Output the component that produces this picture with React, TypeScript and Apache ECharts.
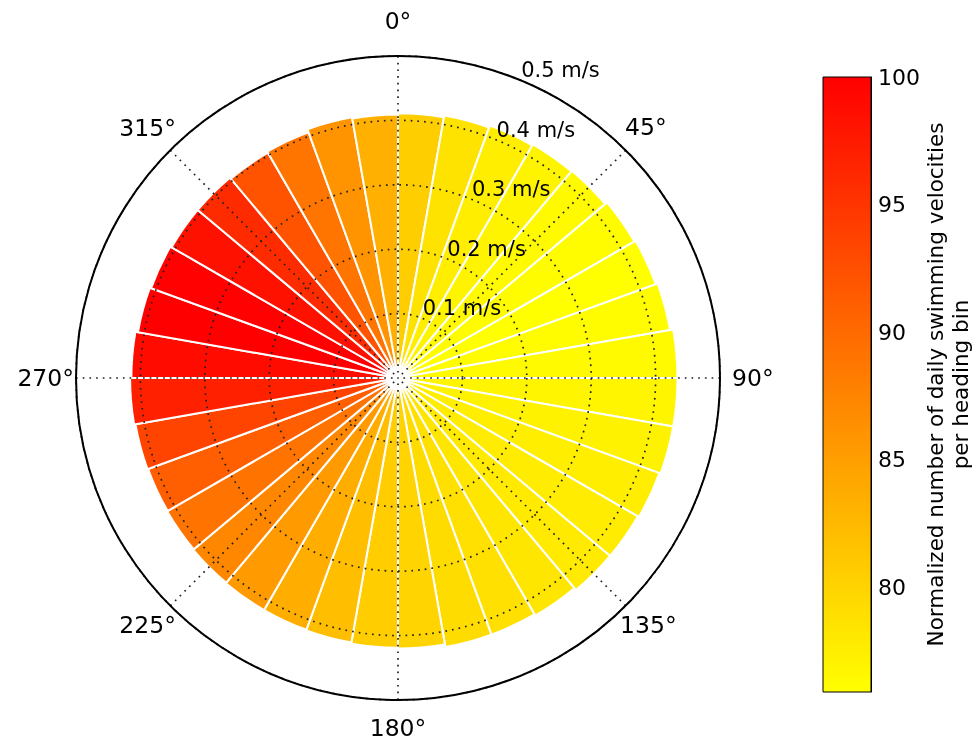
import { useEffect, useRef } from 'react';
import * as echarts from 'echarts';

// Heading bins (start angle of each 10° bin, clockwise from north)
const HEADING_BINS = [
  '0', '10', '20', '30', '40', '50', '60', '70', '80',
  '90', '100', '110', '120', '130', '140', '150', '160', '170',
  '180', '190', '200', '210', '220', '230', '240', '250', '260',
  '270', '280', '290', '300', '310', '320', '330', '340', '350',
];

// Mean swimming velocity per heading bin (m/s)
const SPEED = [
  0.411, 0.414, 0.417, 0.419, 0.42, 0.424, 0.426, 0.429, 0.434,
  0.434, 0.434, 0.432, 0.43, 0.43, 0.426, 0.424, 0.424, 0.42,
  0.419, 0.417, 0.416, 0.416, 0.415, 0.414, 0.413, 0.414, 0.416,
  0.414, 0.41, 0.408, 0.406, 0.406, 0.404, 0.406, 0.411, 0.409,
];

// Normalized number of daily swimming velocities per heading bin
const NORM_COUNT = [
  80.5, 78.5, 77.5, 76.9, 76.4, 76.2, 75.9, 76.2, 76.4,
  76.8, 77.1, 77.5, 77.7, 77.9, 78.3, 78.8, 79.2, 80.0,
  80.6, 82.0, 83.6, 85.4, 87.2, 89.0, 91.0, 93.6, 97.0,
  99.0, 100, 99.9, 98.4, 95.9, 92.2, 88.9, 86.0, 83.4,
];

const HEADING_TICK_LABELS = ['0°', '45°', '90°', '135°', '180°', '225°', '270°', '315°'];
const SPEED_UNIT = 'm/s';
const COLORBAR_TICKS = [80, 85, 90, 95, 100];
const COUNT_MIN = 75.9;
const COUNT_MAX = 100;
const COLOR_LOW = '#ffff00';
const COLOR_HIGH = '#ff0000';
const COLORBAR_TITLE = 'Normalized number of daily swimming velocities\nper heading bin';

const FONT = 'DejaVu Sans';
const CENTER = [398, 378];
const RADIUS = 322;
const DOTTED = { color: '#222', width: 1.7, type: [1.7, 5] as number[] };

// per-label padding [top, right, bottom, left] for heading labels
const HEADING_PAD = [
  [0, 0, 31, 0],
  [0, 0, 17, 5],
  [0, 0, 0, 20],
  [13, 0, 0, 0],
  [24, 0, 0, 0],
  [13, 0, 0, 0],
  [0, 10, 0, 0],
  [0, 0, 16, 0],
];

function buildOption(): any {
  const rich: Record<string, any> = {};
  HEADING_PAD.forEach((p, i) => {
    rich['h' + i] = { padding: p, fontSize: 23.5, color: '#000', fontFamily: FONT };
  });

  return {
    animation: false,
    textStyle: { fontFamily: FONT },
    dataset: {
      dimensions: ['heading', 'speed', 'count'],
      source: HEADING_BINS.map((h, i) => [h, SPEED[i], NORM_COUNT[i]]),
    },
    visualMap: {
      show: false,
      type: 'continuous',
      seriesIndex: 0,
      dimension: 2,
      min: COUNT_MIN,
      max: COUNT_MAX,
      inRange: { color: [COLOR_LOW, COLOR_HIGH] },
    },
    polar: [
      { center: CENTER, radius: RADIUS },
      { center: CENTER, radius: RADIUS },
      { center: CENTER, radius: RADIUS },
    ],
    angleAxis: [
      {
        polarIndex: 0,
        type: 'category',
        data: HEADING_BINS,
        startAngle: 90,
        clockwise: true,
        show: false,
      },
      {
        polarIndex: 1,
        type: 'value',
        min: 0,
        max: 360,
        interval: 45,
        startAngle: 90,
        clockwise: true,
        z: 10,
        axisLine: { show: true, lineStyle: { color: '#000', width: 2 } },
        axisTick: { show: false },
        splitLine: { show: true, lineStyle: DOTTED },
        axisLabel: {
          show: true,
          margin: -8,
          fontSize: 23.5,
          color: '#000',
          formatter: (v: number) => {
            const i = Math.round(v / 45);
            if (i < 0 || i >= HEADING_TICK_LABELS.length) return '';
            return `{h${i}|${HEADING_TICK_LABELS[i]}}`;
          },
          rich,
        },
      },
      {
        polarIndex: 2,
        type: 'value',
        min: 0,
        max: 360,
        startAngle: 67.5,
        show: false,
      },
    ],
    radiusAxis: [
      { polarIndex: 0, type: 'value', min: 0, max: 0.5, show: false },
      {
        polarIndex: 1,
        type: 'value',
        min: 0,
        max: 0.5,
        interval: 0.1,
        z: 10,
        axisLine: { show: false },
        axisTick: { show: false },
        axisLabel: { show: false },
        splitLine: { show: true, lineStyle: DOTTED },
      },
      {
        polarIndex: 2,
        type: 'value',
        min: 0,
        max: 0.5,
        interval: 0.1,
        z: 10,
        axisLine: { show: false },
        axisTick: { show: false },
        splitLine: { show: false },
        axisLabel: {
          show: true,
          margin: 0,
          align: 'left',
          verticalAlign: 'bottom',
          fontSize: 21,
          color: '#000',
          formatter: (v: number) => (v === 0 ? '' : `${+v.toFixed(1)} ${SPEED_UNIT}`),
        },
      },
    ],
    grid: {
      left: 823,
      top: 77,
      width: 48,
      height: 615,
      containLabel: false,
      outerBoundsMode: 'none',
    },
    xAxis: { type: 'category', data: [''], show: false },
    yAxis: {
      type: 'value',
      min: COUNT_MIN,
      max: COUNT_MAX,
      position: 'right',
      axisLine: { show: true, lineStyle: { color: '#000', width: 1 } },
      axisTick: {
        show: true,
        inside: true,
        length: 6,
        customValues: COLORBAR_TICKS,
        lineStyle: { color: '#000', width: 1 },
      },
      axisLabel: {
        show: true,
        customValues: COLORBAR_TICKS,
        fontSize: 22,
        color: '#000',
        margin: 7,
      },
      splitLine: { show: false },
      name: COLORBAR_TITLE,
      nameLocation: 'middle',
      nameRotate: 90,
      nameGap: 52,
      nameMoveOverlap: false,
      nameTextStyle: { fontSize: 21.5, color: '#000', lineHeight: 25, align: 'center' },
    },
    series: [
      {
        type: 'bar',
        coordinateSystem: 'polar',
        polarIndex: 0,
        datasetIndex: 0,
        encode: { angle: 'heading', radius: 'speed' },
        barCategoryGap: '0%',
        itemStyle: { borderColor: '#fff', borderWidth: 2 },
      },
      {
        type: 'custom',
        coordinateSystem: 'cartesian2d',
        data: [[0, COUNT_MAX]],
        renderItem: (params: any, api: any) => {
          const top = api.coord([0, COUNT_MAX]);
          const bottom = api.coord([0, COUNT_MIN]);
          const cs = params.coordSys;
          return {
            type: 'rect',
            shape: { x: cs.x, y: top[1], width: cs.width, height: bottom[1] - top[1] },
            style: {
              fill: new echarts.graphic.LinearGradient(0, 0, 0, 1, [
                { offset: 0, color: COLOR_HIGH },
                { offset: 1, color: COLOR_LOW },
              ]),
              stroke: '#000',
              lineWidth: 1,
            },
          };
        },
      },
    ],
  };
}

export default function App() {
  const ref = useRef<HTMLDivElement>(null);
  useEffect(() => {
    const chart = echarts.init(ref.current!, null, { renderer: 'svg' });
    chart.setOption(buildOption());
    return () => chart.dispose();
  }, []);
  return (
    <div
      ref={ref}
      style={{ position: 'fixed', left: 0, top: 0, width: 976, height: 742 }}
    />
  );
}
